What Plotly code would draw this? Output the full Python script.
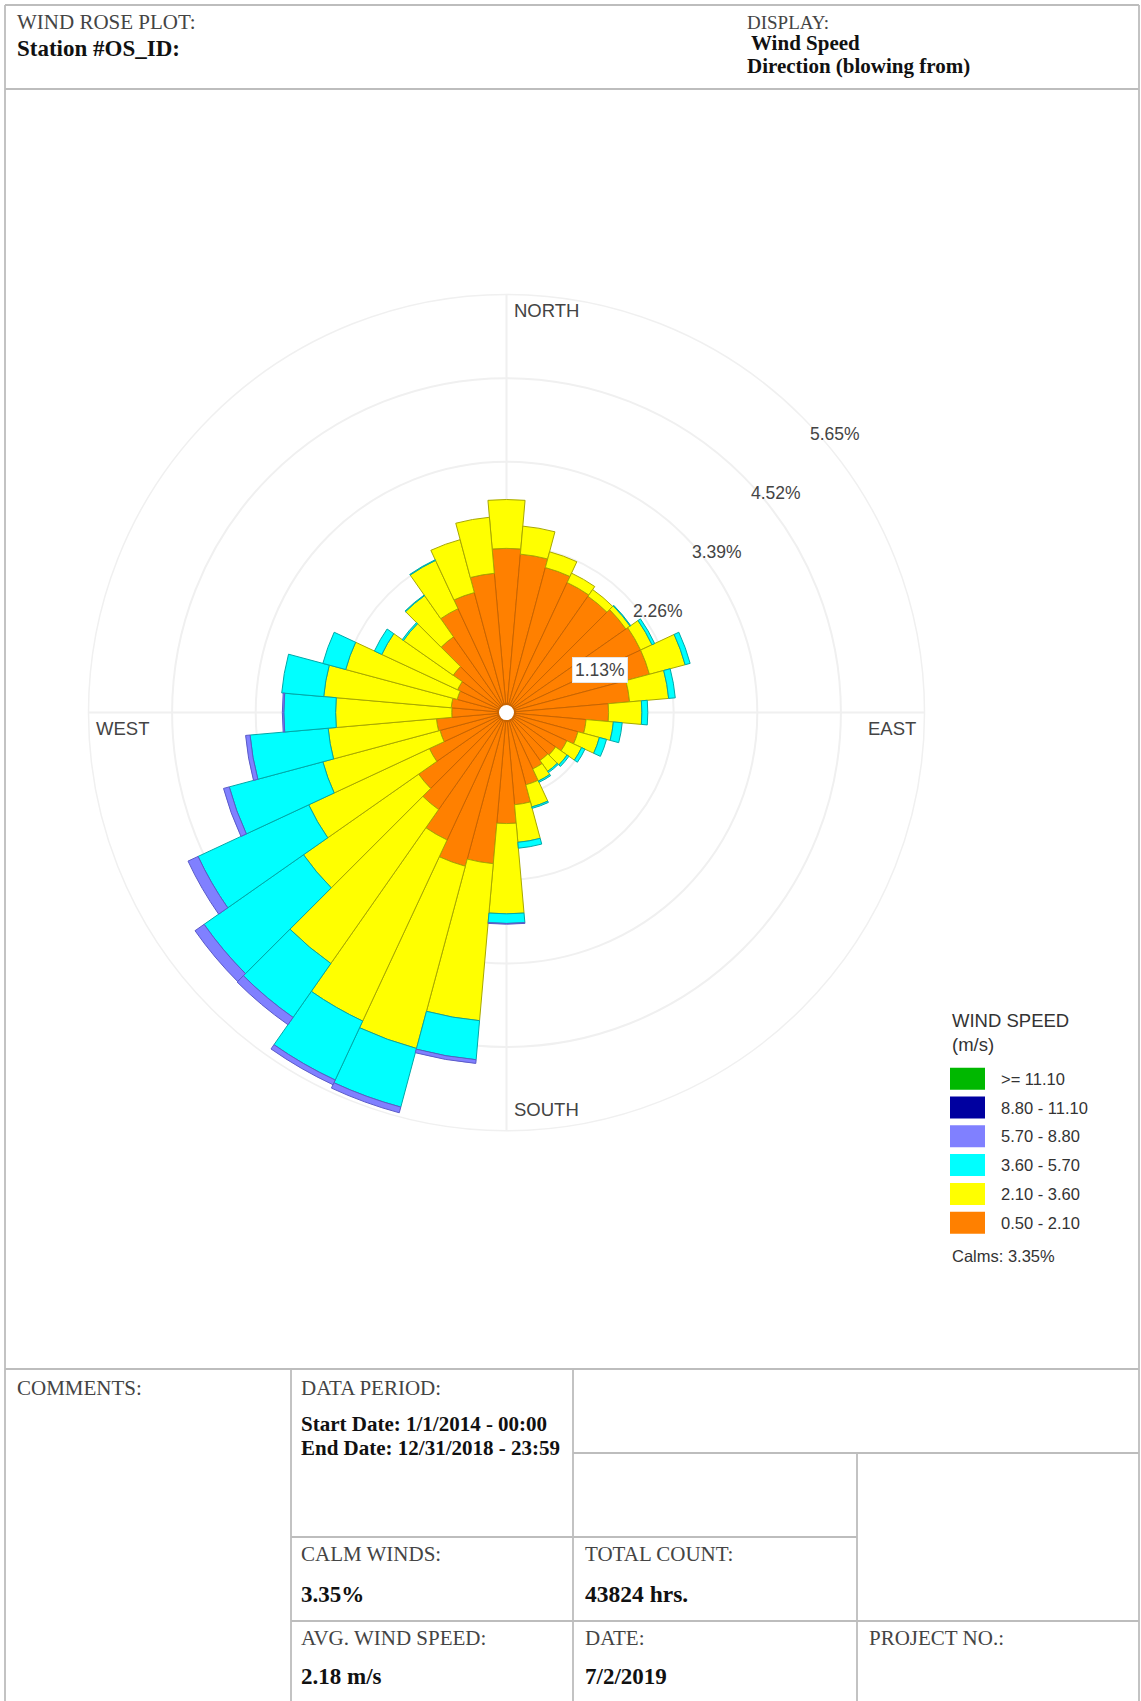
import math
import plotly.graph_objects as go

W, H = 1141, 1701

# ---------------- data ----------------
directions = [0, 10, 20, 30, 40, 50, 60, 70, 80, 90, 100, 110, 120, 130, 140, 150, 160, 170,
              180, 190, 200, 210, 220, 230, 240, 250, 260, 270, 280, 290, 300, 310, 320, 330, 340, 350]

# frequency (%) per direction for each wind-speed class (m/s)
freq_050_210 = [2.22, 2.15, 2.03, 1.94, 1.92, 1.97, 2.00, 2.00, 1.67, 1.38, 1.08, 1.00, 0.90, 0.81, 0.79, 0.84, 1.01, 1.25,
                1.50, 2.05, 2.15, 1.90, 1.60, 1.45, 1.15, 0.93, 0.95, 0.74, 0.75, 0.69, 0.73, 0.88, 1.25, 1.55, 1.68, 1.89]
freq_210_360 = [0.66, 0.38, 0.22, 0.14, 0.11, 0.07, 0.17, 0.50, 0.53, 0.45, 0.37, 0.30, 0.22, 0.19, 0.18, 0.18, 0.31, 0.51,
                1.22, 2.13, 2.55, 2.70, 2.54, 1.90, 1.80, 1.64, 1.47, 1.57, 1.73, 1.56, 1.13, 0.82, 0.68, 0.72, 0.74, 0.76]
freq_360_570 = [0.00, 0.00, 0.00, 0.00, 0.00, 0.01, 0.04, 0.07, 0.09, 0.08, 0.12, 0.10, 0.05, 0.03, 0.02, 0.02, 0.02, 0.08,
                0.13, 0.53, 0.82, 0.88, 0.89, 1.64, 1.65, 1.31, 1.06, 0.70, 0.57, 0.32, 0.11, 0.02, 0.01, 0.01, 0.00, 0.00]
freq_570_880 = [0.00, 0.00, 0.00, 0.00, 0.00, 0.00, 0.00, 0.00, 0.00, 0.00, 0.00, 0.00, 0.00, 0.00, 0.00, 0.00, 0.00, 0.00,
                0.01, 0.05, 0.08, 0.07, 0.12, 0.15, 0.15, 0.08, 0.06, 0.02, 0.00, 0.00, 0.00, 0.00, 0.00, 0.00, 0.00, 0.00]
freq_880_1110 = [0.00, 0.00, 0.00, 0.00, 0.00, 0.00, 0.00, 0.00, 0.00, 0.00, 0.00, 0.00, 0.00, 0.00, 0.00, 0.00, 0.00, 0.00,
                 0.00, 0.00, 0.00, 0.00, 0.00, 0.00, 0.00, 0.00, 0.00, 0.00, 0.00, 0.00, 0.00, 0.00, 0.00, 0.00, 0.00, 0.00]
freq_ge_1110 = [0.00, 0.00, 0.00, 0.00, 0.00, 0.00, 0.00, 0.00, 0.00, 0.00, 0.00, 0.00, 0.00, 0.00, 0.00, 0.00, 0.00, 0.00,
                0.00, 0.00, 0.00, 0.00, 0.00, 0.00, 0.00, 0.00, 0.00, 0.00, 0.00, 0.00, 0.00, 0.00, 0.00, 0.00, 0.00, 0.00]

# innermost first (stacking order)
class_labels = ["0.50 - 2.10", "2.10 - 3.60", "3.60 - 5.70", "5.70 - 8.80", "8.80 - 11.10", ">= 11.10"]
class_values = [freq_050_210, freq_210_360, freq_360_570, freq_570_880, freq_880_1110, freq_ge_1110]
class_colors = ["#FF8000", "#FFFF00", "#00FFFF", "#8080FF", "#0000A0", "#00B800"]
class_edges = ["#C86400", "#A8A800", "#00A8A8", "#5A5AC8", "#000070", "#008000"]

ring_values = [1.13, 2.26, 3.39, 4.52, 5.65]
ring_labels = ["1.13%", "2.26%", "3.39%", "4.52%", "5.65%"]
compass_labels = ["NORTH", "EAST", "SOUTH", "WEST"]
calms_text = "Calms: 3.35%"

# ---------------- geometry (pixels) ----------------
CX, CY, R = 506.5, 712.6, 418.0
RMAX = ring_values[-1]


def px(x):
    return x / W


def py(y):
    return 1 - y / H


fig = go.Figure()

for lab, vals, col, edge in zip(class_labels, class_values, class_colors, class_edges):
    fig.add_trace(go.Barpolar(
        r=vals, theta=directions, width=[10] * len(directions), name=lab,
        marker=dict(color=col, line=dict(color=edge, width=1)),
        showlegend=False, hoverinfo="skip",
    ))

# centre hole marker
fig.add_trace(go.Scatterpolar(
    r=[0], theta=[0], mode="markers",
    marker=dict(color="white", size=17, line=dict(color="#C86400", width=2)),
    showlegend=False, hoverinfo="skip",
))

GRID = "#F0F0F0"
fig.update_layout(
    width=W, height=H,
    margin=dict(l=0, r=0, t=0, b=0),
    paper_bgcolor="white", plot_bgcolor="white",
    polar=dict(
        domain=dict(x=[px(CX - R), px(CX + R)], y=[py(CY + R), py(CY - R)]),
        bgcolor="white",
        barmode="stack",
        bargap=0,
        angularaxis=dict(direction="clockwise", rotation=90, dtick=90,
                         showticklabels=False, ticks="", showline=True,
                         linecolor=GRID, linewidth=1.5,
                         gridcolor=GRID, gridwidth=1.5),
        radialaxis=dict(range=[0, RMAX], tickvals=ring_values, showticklabels=False,
                        ticks="", showline=False, gridcolor=GRID, gridwidth=1.5),
    ),
)

annotations = []
shapes = []
SANS = "Liberation Sans, Arial, sans-serif"
SERIF = "Liberation Serif, Times New Roman, serif"


def add_text(x, y, text, size, color="#444", family=SANS, bold=False, xanchor="left",
             yanchor="middle", bgcolor=None):
    t = "<b>%s</b>" % text if bold else text
    a = dict(x=px(x), y=py(y), xref="paper", yref="paper", text=t, showarrow=False,
             xanchor=xanchor, yanchor=yanchor, font=dict(size=size, color=color, family=family))
    if bgcolor:
        a.update(bgcolor=bgcolor, borderpad=2, bordercolor="#E4E4E4", borderwidth=1)
    annotations.append(a)


# ring labels at 45 degrees
for i, (rv, lab) in enumerate(zip(ring_values, ring_labels)):
    d = rv / RMAX * R * math.sin(math.radians(45))
    add_text(CX + d + 6, CY - d + 17, lab, 17.5, color="#444",
             bgcolor="white" if i == 0 else None)

# compass labels
add_text(CX + 5, CY - R + 16, compass_labels[0], 18.5, color="#444")
add_text(CX + R - 7, CY + 16, compass_labels[1], 18.5, color="#444", xanchor="right")
add_text(CX + 5, CY + R - 21, compass_labels[2], 18.5, color="#444")
add_text(CX - R + 6, CY + 16, compass_labels[3], 18.5, color="#444")

# custom legend
add_text(950, 1021, "WIND SPEED", 18.5, color="#333")
add_text(950, 1044, "(m/s)", 18.5, color="#333")
leg_order = list(range(len(class_labels)))[::-1]
for k, idx in enumerate(leg_order):
    yc = 1078.7 + k * 28.8
    shapes.append(dict(type="rect", xref="paper", yref="paper",
                       x0=px(950), x1=px(985), y0=py(yc + 11), y1=py(yc - 11),
                       fillcolor=class_colors[idx], line=dict(width=0)))
    add_text(999, yc, class_labels[idx], 16.5, color="#333")
add_text(950, 1256, calms_text, 16.5, color="#333")

# header texts
add_text(15, 22, "WIND ROSE PLOT:", 21, color="#444", family=SERIF)
add_text(15, 48, "Station #OS_ID:", 23, color="#111", family=SERIF, bold=True)
add_text(745, 22, "DISPLAY:", 19, color="#444", family=SERIF)
add_text(749, 43, "Wind Speed", 21, color="#111", family=SERIF, bold=True)
add_text(745, 66, "Direction (blowing from)", 21, color="#111", family=SERIF, bold=True)

# table texts
add_text(15, 1388, "COMMENTS:", 21, color="#444", family=SERIF)
add_text(299, 1388, "DATA PERIOD:", 21, color="#444", family=SERIF)
add_text(299, 1424, "Start Date: 1/1/2014 - 00:00", 21, color="#111", family=SERIF, bold=True)
add_text(299, 1448, "End Date: 12/31/2018 - 23:59", 21, color="#111", family=SERIF, bold=True)
add_text(299, 1554, "CALM WINDS:", 21, color="#444", family=SERIF)
add_text(299, 1594, "3.35%", 23, color="#111", family=SERIF, bold=True)
add_text(583, 1554, "TOTAL COUNT:", 21, color="#444", family=SERIF)
add_text(583, 1594, "43824 hrs.", 23.5, color="#111", family=SERIF, bold=True)
add_text(299, 1638, "AVG. WIND SPEED:", 21, color="#444", family=SERIF)
add_text(299, 1676, "2.18 m/s", 23, color="#111", family=SERIF, bold=True)
add_text(583, 1638, "DATE:", 21, color="#444", family=SERIF)
add_text(583, 1676, "7/2/2019", 23, color="#111", family=SERIF, bold=True)
add_text(867, 1638, "PROJECT NO.:", 21, color="#444", family=SERIF)

# frame lines
LC = "#BDBDBD"


def line(x0, y0, x1, y1):
    shapes.append(dict(type="line", xref="paper", yref="paper",
                       x0=px(x0), y0=py(y0), x1=px(x1), y1=py(y1),
                       line=dict(color=LC, width=1.8)))


line(5, 5, 1139, 5)
line(5, 5, 5, 1705)
line(1139, 5, 1139, 1705)
line(5, 89, 1139, 89)
line(5, 1369, 1139, 1369)
line(291, 1369, 291, 1705)
line(573, 1369, 573, 1705)
line(857, 1453, 857, 1705)
line(573, 1453, 1139, 1453)
line(291, 1537, 857, 1537)
line(291, 1621, 1139, 1621)

fig.update_layout(annotations=annotations, shapes=shapes)

fig.write_html("out.html", config={"displayModeBar": False},
               post_script="document.body.style.margin='0';document.documentElement.style.overflow='hidden';")
